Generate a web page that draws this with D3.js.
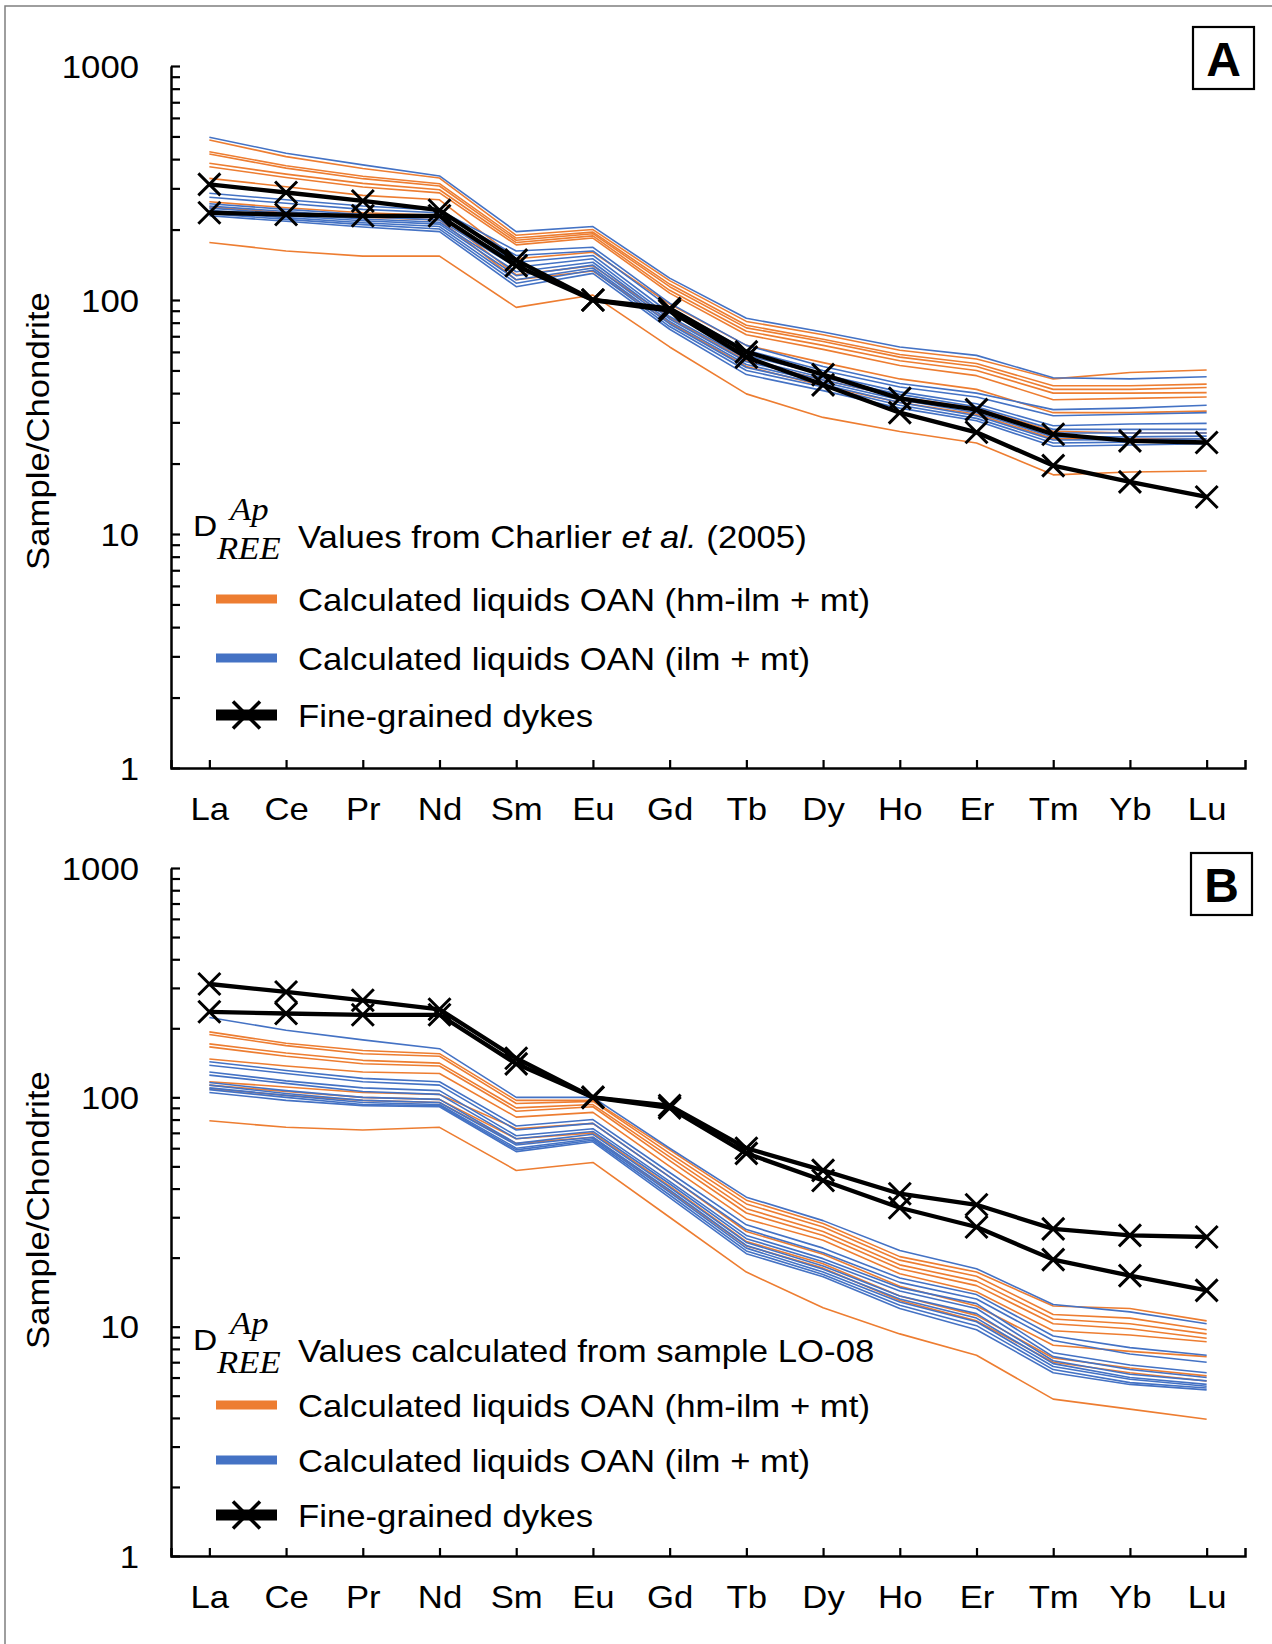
<!DOCTYPE html>
<html>
<head>
<meta charset="utf-8">
<script src="https://cdn.jsdelivr.net/npm/d3@7"></script>
<style>
  body { margin: 0; background: #fff; }
  svg { display: block; }
</style>
</head>
<body>
<script>
// ---- Data: chondrite-normalised REE patterns ----
const elements = ["La", "Ce", "Pr", "Nd", "Sm", "Eu", "Gd", "Tb", "Dy", "Ho", "Er", "Tm", "Yb", "Lu"];
const yTickValues = [1, 10, 100, 1000];

// Fine-grained dykes (same two samples on both panels)
const dykeHigh = [312, 288, 265, 242, 148, 100, 92, 60, 48, 38, 34, 26.7, 25, 24.6];
const dykeLow  = [236, 232, 229, 229, 140, 100, 90, 57, 43.4, 33, 27.2, 19.6, 16.7, 14.4];

// Panel A: liquids calculated with D(Ap) from Charlier et al. (2005)
const liquidsA_hmIlm = [
  [483, 410, 365, 332, 189, 200, 121, 81, 71, 61, 56, 46, 49, 50.2],
  [430, 375, 338, 314, 184, 195, 117, 78, 68, 58.5, 53.5, 43, 43, 43.7],
  [421, 366, 330, 307, 180, 192, 114, 76, 66.5, 57, 52, 41.5, 41.5, 42.3],
  [384, 345, 315, 296, 176, 188, 110, 73.5, 64, 55, 50, 40, 40, 40.2],
  [371, 334, 304, 287, 172, 184, 107, 71, 61.5, 52.5, 47.5, 37.5, 38, 38.5],
  [331, 305, 280, 268, 150, 160, 96, 64, 54, 46, 41.5, 33, 33, 33.5],
  [263, 248, 236, 230, 128, 140, 84, 55, 45.5, 38.5, 34.5, 27.5, 27, 27],
  [250, 236, 226, 220, 122, 133, 80, 52, 43, 36.5, 32.5, 25.5, 25.5, 25.5],
  [176, 162, 154, 154, 93, 105, 63, 39.7, 31.5, 27.4, 24.5, 17.9, 18.4, 18.6]
];
const liquidsA_ilm = [
  [496, 424, 378, 339, 196, 206, 124, 83.5, 73, 63, 58, 46.5, 46, 47],
  [286, 268, 252, 242, 162, 168, 97, 64, 52, 44, 40, 34, 34.5, 35.5],
  [275, 259, 244, 236, 155, 162, 93, 61, 50, 42.5, 38.5, 32, 32.5, 33],
  [258, 244, 232, 225, 145, 155, 88, 58, 48, 40.5, 36, 29, 29.5, 29.7],
  [252, 239, 227, 220, 138, 150, 85, 56, 46.5, 39.5, 35, 28, 28, 28],
  [247, 234, 222, 215, 132, 145, 83, 54.5, 45.5, 38.5, 34, 27, 27, 27],
  [242, 229, 218, 211, 127, 141, 81, 53, 44.5, 37.5, 33, 26, 26, 26.2],
  [238, 225, 214, 206, 122, 137, 79, 51.5, 43.5, 36.5, 32, 25.2, 25.3, 25.5],
  [234, 221, 210, 201, 118, 134, 77, 50, 42.5, 35.5, 31.2, 24.5, 24.7, 24.8],
  [229, 217, 205, 196, 114, 130, 75, 48, 41, 34.5, 30.5, 23.7, 24, 24.3]
];

// Panel B: liquids calculated with D(Ap) derived from sample LO-08
const liquidsB_hmIlm = [
  [193, 172, 160, 155, 97, 97, 59, 35.6, 28.2, 20.2, 17.3, 12.3, 12, 10.6],
  [188, 168, 155, 151, 94, 96, 57, 34.3, 27.2, 19.5, 16.6, 11.3, 10.9, 9.7],
  [171, 156, 145, 141, 90, 93, 55, 32.7, 26, 18.6, 15.8, 10.8, 10.3, 9.3],
  [166, 151, 140, 137, 87, 91, 53, 31.3, 25, 17.9, 15.1, 10.3, 9.8, 8.9],
  [147, 137, 129, 127, 82, 86, 50, 29.5, 23.8, 17, 14.2, 9.6, 9.2, 8.6],
  [117, 111, 105, 103, 73, 77, 45, 26, 20.7, 15, 12.3, 8.3, 7.8, 7.4],
  [113, 106, 100, 98, 66, 70, 41, 23.5, 18.8, 13.6, 11.2, 7.3, 6.6, 6.1],
  [109, 102, 97, 95, 63, 67, 39, 22.5, 18, 13, 10.6, 7, 6.3, 5.8],
  [79, 74, 72, 74, 48, 52, 30, 17.3, 12.1, 9.3, 7.5, 4.83, 4.37, 3.95]
];
const liquidsB_ilm = [
  [223, 196, 178, 163, 100, 100, 60, 36.7, 29, 21.5, 17.9, 12.5, 11.6, 10.3],
  [143, 131, 121, 117, 75, 80, 47, 27.8, 22, 16.3, 13.8, 9.1, 8.1, 7.5],
  [138, 127, 117, 113, 72, 77, 45, 26.5, 21, 15.6, 13.2, 8.7, 7.6, 7.0],
  [129, 118, 110, 107, 68, 73, 43, 25, 19.8, 14.8, 12.6, 7.7, 6.8, 6.3],
  [125, 115, 106, 103, 66, 71, 42, 24.2, 19.2, 14.3, 12.0, 7.4, 6.5, 6.0],
  [116, 107, 100, 98, 63, 69, 40.5, 23.3, 18.4, 13.6, 11.4, 7.1, 6.2, 5.8],
  [113, 104, 97, 95, 62, 67, 39.5, 22.6, 17.8, 13.2, 10.9, 6.9, 6.0, 5.6],
  [110, 102, 95, 93, 60, 66, 38.5, 22, 17.3, 12.8, 10.5, 6.7, 5.9, 5.5],
  [108, 100, 93, 92, 59, 65, 37.5, 21.4, 16.9, 12.4, 10.1, 6.5, 5.7, 5.4],
  [105, 97, 92, 91, 58, 64, 36.5, 20.8, 16.5, 12, 9.7, 6.3, 5.6, 5.3]
];

const legendLabels = [
  "Calculated liquids OAN (hm-ilm + mt)",
  "Calculated liquids OAN (ilm + mt)",
  "Fine-grained dykes"
];
const yTitle = "Sample/Chondrite";

// ---- Styling ----
const W = 1272, H = 1644;
const ORANGE = "#ED7D31", BLUE = "#4472C4";
const SANS = "'Liberation Sans', Arial, sans-serif";
const SERIF = "'Liberation Serif', 'Times New Roman', serif";
const FS = 31;      // base font size
const SX = 1.12;    // horizontal stretch of the lettering

const svg = d3.select("body").append("svg").attr("width", W).attr("height", H);

// thin frame round the figure
svg.append("path").attr("d", `M5,${H} V6 H${W}`)
  .attr("fill", "none").attr("stroke", "#7f7f7f").attr("stroke-width", 1.5);

function label(g, x, y, str, o = {}) {
  return g.append("text")
    .attr("transform", `translate(${x},${y}) scale(${o.sx ?? SX},1)`)
    .attr("text-anchor", o.anchor || "start")
    .attr("font-family", o.family || SANS)
    .attr("font-size", o.size || FS)
    .attr("font-style", o.style || "normal")
    .attr("font-weight", o.weight || "normal")
    .attr("fill", "#000")
    .text(str);
}

function xMark(size) {
  const h = size / 2;
  return `M${-h},${-h}L${h},${h}M${-h},${h}L${h},${-h}`;
}

function drawPanel(cfg) {
  const x = d3.scalePoint().domain(elements).range([171, 1245]).padding(0.5);
  const y = d3.scaleLog().domain([1, 1000]).range([cfg.bottom, cfg.top]);
  const g = svg.append("g");
  const line = d3.line().x((d, i) => x(elements[i])).y(d => y(d));

  // calculated liquids
  g.append("g").selectAll("path").data(cfg.orange).join("path")
    .attr("d", line).attr("fill", "none").attr("stroke", ORANGE)
    .attr("stroke-width", 1.6).attr("stroke-linejoin", "round");
  g.append("g").selectAll("path").data(cfg.blue).join("path")
    .attr("d", line).attr("fill", "none").attr("stroke", BLUE)
    .attr("stroke-width", 1.6).attr("stroke-linejoin", "round");

  // dykes with X markers
  const dykes = [dykeHigh, dykeLow];
  g.append("g").selectAll("path").data(dykes).join("path")
    .attr("d", line).attr("fill", "none").attr("stroke", "#000")
    .attr("stroke-width", 4.3).attr("stroke-linejoin", "round");
  dykes.forEach(s => {
    g.append("g").selectAll("path").data(s).join("path")
      .attr("transform", (d, i) => `translate(${x(elements[i])},${y(d)})`)
      .attr("d", xMark(22)).attr("fill", "none")
      .attr("stroke", "#000").attr("stroke-width", 3);
  });

  // y axis (log, inward ticks)
  const minor = [];
  for (let e = 0; e < 3; e++) for (let k = 2; k <= 9; k++) minor.push(k * Math.pow(10, e));
  const yAx = g.append("g").attr("transform", "translate(171,0)")
    .call(d3.axisLeft(y).tickValues(yTickValues.concat(minor))
      .tickSizeInner(-9).tickSizeOuter(0).tickPadding(32)
      .tickFormat(d => yTickValues.includes(d) ? String(d) : ""));
  // x axis (categories, upward ticks)
  const xAx = g.append("g").attr("transform", `translate(0,${cfg.bottom})`)
    .call(d3.axisBottom(x).tickSizeInner(-8).tickSizeOuter(-8).tickPadding(30));

  [yAx, xAx].forEach(ax => {
    ax.select(".domain").attr("stroke", "#000").attr("stroke-width", 2.5);
    ax.selectAll(".tick line").attr("stroke", "#000").attr("stroke-width", 2.2);
    ax.selectAll(".tick text").attr("font-family", SANS).attr("font-size", FS).attr("fill", "#000");
  });
  yAx.selectAll(".tick text").attr("x", -32 / SX).attr("dy", "0.36em")
    .attr("transform", `scale(${SX},1)`);
  xAx.selectAll(".tick text").attr("transform", `scale(${SX},1)`);

  // y title
  g.append("text")
    .attr("transform", `translate(38,${cfg.titleY}) rotate(-90) scale(${SX},1)`)
    .attr("text-anchor", "middle").attr("dy", "0.35em")
    .attr("font-family", SANS).attr("font-size", FS).text(yTitle);

  // panel letter
  g.append("rect").attr("x", cfg.boxX).attr("y", cfg.boxY).attr("width", 61).attr("height", 62)
    .attr("fill", "#fff").attr("stroke", "#000").attr("stroke-width", 2.2);
  label(g, cfg.boxX + 30.5, cfg.boxY + 49, cfg.letter, { anchor: "middle", size: 48, weight: "bold", sx: 1 });

  // legend
  const L = g.append("g");
  const v = cfg.legendY;   // baseline of the heading row
  label(L, 193, v - 12, "D", { size: 30 });
  label(L, 230, v - 28, "Ap", { family: SERIF, style: "italic", size: 31 });
  label(L, 217, v + 11, "REE", { family: SERIF, style: "italic", size: 31 });
  const head = label(L, 298, v, "");
  cfg.heading.forEach(part => head.append("tspan").attr("font-style", part.italic ? "italic" : "normal").text(part.t));

  const rows = cfg.rows;
  L.append("line").attr("x1", 216).attr("x2", 277).attr("y1", rows[0] - 12).attr("y2", rows[0] - 12)
    .attr("stroke", ORANGE).attr("stroke-width", 9);
  L.append("line").attr("x1", 216).attr("x2", 277).attr("y1", rows[1] - 12).attr("y2", rows[1] - 12)
    .attr("stroke", BLUE).attr("stroke-width", 9);
  L.append("line").attr("x1", 216).attr("x2", 277).attr("y1", rows[2] - 12).attr("y2", rows[2] - 12)
    .attr("stroke", "#000").attr("stroke-width", 11);
  L.append("path").attr("transform", `translate(246.5,${rows[2] - 12})`)
    .attr("d", xMark(27)).attr("fill", "none").attr("stroke", "#000").attr("stroke-width", 3.5);
  legendLabels.forEach((t, i) => label(L, 298, rows[i], t));
}

drawPanel({
  top: 66, bottom: 768, titleY: 431,
  orange: liquidsA_hmIlm, blue: liquidsA_ilm,
  letter: "A", boxX: 1193, boxY: 27,
  legendY: 548, rows: [611, 670, 727],
  heading: [{ t: "Values from Charlier " }, { t: "et al.", italic: true }, { t: " (2005)" }]
});
drawPanel({
  top: 868, bottom: 1556, titleY: 1210,
  orange: liquidsB_hmIlm, blue: liquidsB_ilm,
  letter: "B", boxX: 1191, boxY: 853,
  legendY: 1362, rows: [1417, 1472, 1527],
  heading: [{ t: "Values calculated from sample LO-08" }]
});
</script>
</body>
</html>
